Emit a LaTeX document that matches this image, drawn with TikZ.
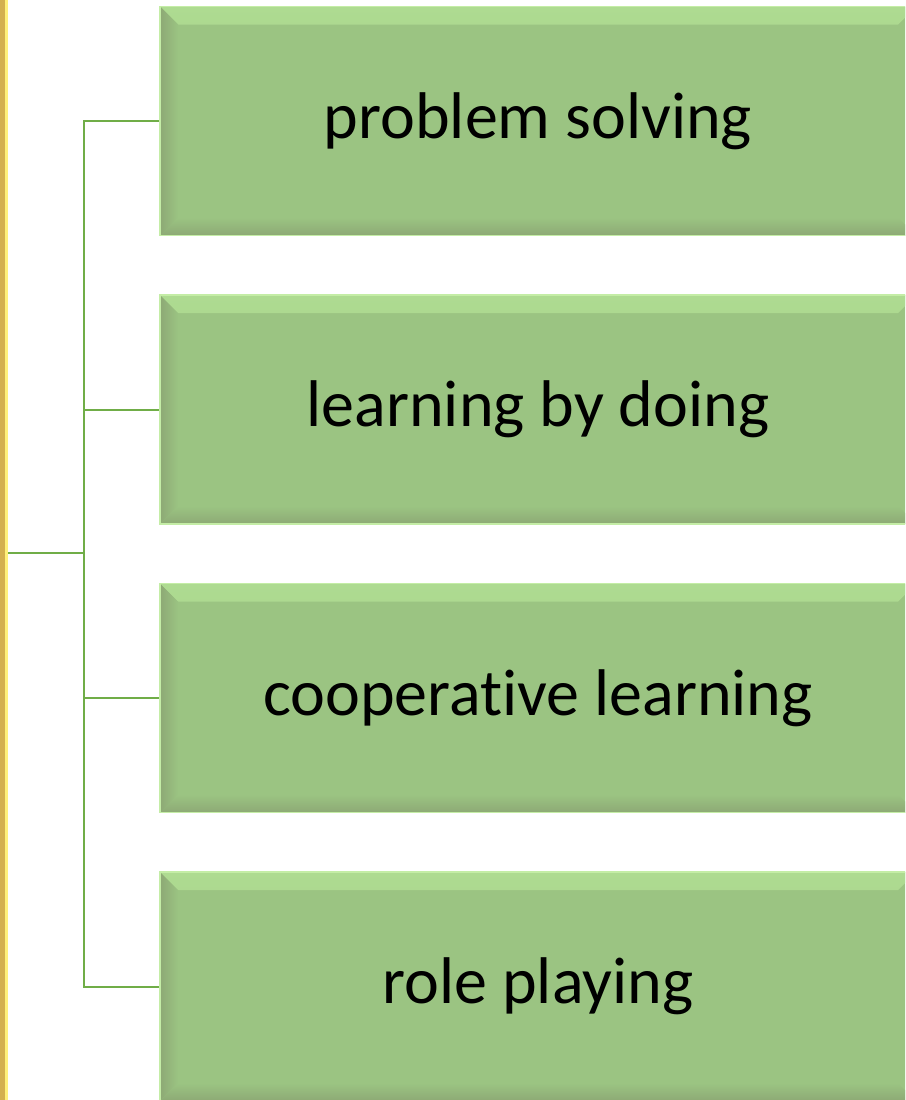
\documentclass[tikz,border=0pt]{standalone}
\usepackage{fontspec}
\setmainfont{Carlito}[Ligatures={NoCommon}]
\usetikzlibrary{positioning}

\definecolor{boxgreen}{HTML}{9BC482}
\definecolor{boxrim}{HTML}{C4EDA6}
\definecolor{bevlight}{HTML}{AEDB91}
\definecolor{bevdark}{HTML}{8DA975}
\definecolor{linkgreen}{HTML}{70AD47}
\definecolor{stripgold}{HTML}{D4B04F}
\definecolor{stripyellow}{HTML}{FFF07A}

\begin{document}
\begin{tikzpicture}[
        x=1pt, y=-1pt, % pixel-like coordinates
        link/.style = {draw=linkgreen, line width=2pt},
        method/.style = {rectangle, fill=boxgreen, draw=boxrim, line width=1.5pt,
            minimum width=756pt, minimum height=229pt, inner sep=0pt,
            font=\fontsize{66}{78}\selectfont,
            path picture={
                % top bevel
                \shade[top color=bevlight, bottom color=boxgreen]
                    (path picture bounding box.north west) -- (path picture bounding box.north east)
                    -- ([shift={(-18pt,-18pt)}]path picture bounding box.north east)
                    -- ([shift={(18pt,-18pt)}]path picture bounding box.north west) -- cycle;
                % left bevel
                \shade[left color=bevdark, right color=boxgreen]
                    (path picture bounding box.north west) -- ([shift={(18pt,-18pt)}]path picture bounding box.north west)
                    -- ([shift={(18pt,18pt)}]path picture bounding box.south west)
                    -- (path picture bounding box.south west) -- cycle;
                % bottom bevel
                \shade[top color=boxgreen, bottom color=bevdark]
                    (path picture bounding box.south west) -- ([shift={(18pt,18pt)}]path picture bounding box.south west)
                    -- ([shift={(-18pt,18pt)}]path picture bounding box.south east)
                    -- (path picture bounding box.south east) -- cycle;
            }},
    ]

    \clip (0,0) rectangle (905,1100);
    \fill[white] (0,0) rectangle (905,1100);

    % left strip
    \fill[stripgold] (0,0) rectangle (5,1100);
    \fill[stripyellow] (5,0) rectangle (8,1100);

    \node[method] (solve) at (538,121) {problem solving};
    \node[method, below=58pt of solve] (doing) {learning by doing};
    \node[method, below=58pt of doing] (coop) {cooperative learning};
    \node[method, below=58pt of coop] (role) {role playing};

    \coordinate (root) at (8,553);
    \coordinate (hub) at (84,553);

    \draw[link] (root) -- (hub);
    \foreach \m in {solve, doing, coop, role}
        \draw[link] (hub) |- (\m.west);

\end{tikzpicture}
\end{document}
